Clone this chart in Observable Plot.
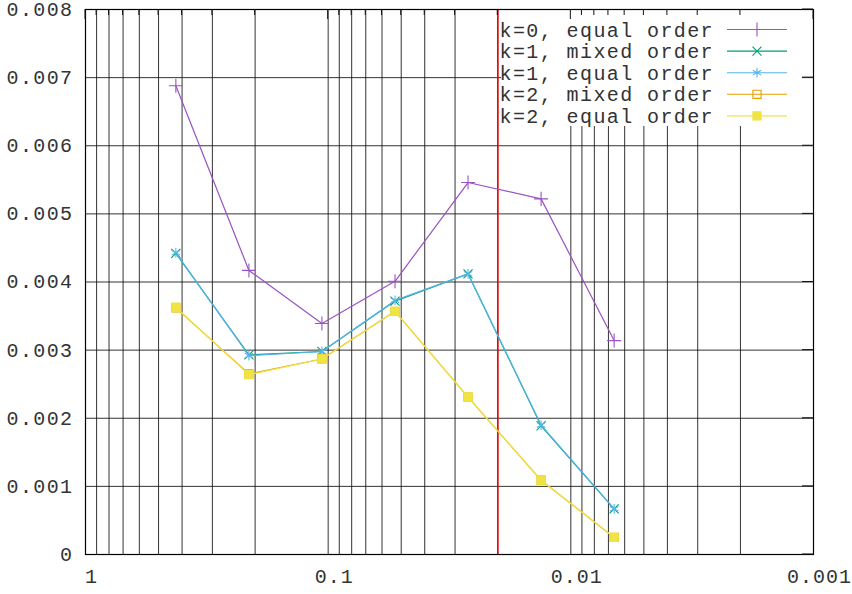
<!DOCTYPE html>
<html><head><meta charset="utf-8">
<script src="https://cdn.jsdelivr.net/npm/d3@7"></script>
<script src="https://cdn.jsdelivr.net/npm/@observablehq/plot@0.6"></script>
<style>body{margin:0;background:#fff} #chart{width:852px;height:594px}</style>
</head><body><div id="chart"></div>
<script>
// ---- data ----
const h = [0.4243, 0.2121, 0.1061, 0.05303, 0.02652, 0.01326, 0.00663];
const k0Equal = [0.00688, 0.00417, 0.00339, 0.00401, 0.00546, 0.00522, 0.00314];
const k1Mixed = [0.00442, 0.00293, 0.00298, 0.00372, 0.00412, 0.00189, 0.00067];
const k1Equal = [0.00443, 0.00292, 0.00298, 0.00373, 0.00412, 0.00190, 0.00067];
const k2Mixed = [0.00362, 0.00265, 0.00287, 0.00357, 0.00231, 0.00109, 0.00025];
const k2Equal = [0.00363, 0.00264, 0.00287, 0.00357, 0.00231, 0.00109, 0.00025];
const seriesNames = ["k=0, equal order", "k=1, mixed order", "k=1, equal order", "k=2, mixed order", "k=2, equal order"];
const seriesValues = [k0Equal, k1Mixed, k1Equal, k2Mixed, k2Equal];
const seriesColors = ["#9a52c4", "#009e73", "#56b4e9", "#e69f00", "#f0e442"];
const seriesSymbols = ["plus", "times", "asterisk", "square", "square"];
const seriesFilled = [false, false, false, false, true];
const xMajorTicks = [1, 0.1, 0.01, 0.001];
const xTickLabels = ["1", "0.1", "0.01", "0.001"];
const xGrid = [1, 0.9, 0.8, 0.7, 0.6, 0.5, 0.4, 0.3, 0.2,
               0.1, 0.09, 0.08, 0.07, 0.06, 0.05, 0.04, 0.03, 0.02,
               0.01, 0.009, 0.008, 0.007, 0.006, 0.005, 0.004, 0.003, 0.002, 0.001];
const yTicks = [0, 0.001, 0.002, 0.003, 0.004, 0.005, 0.006, 0.007, 0.008];
const yTickLabels = ["0", "0.001", "0.002", "0.003", "0.004", "0.005", "0.006", "0.007", "0.008"];
const refLine = [0.02];

const rows = seriesNames.flatMap((name, s) => h.map((x, i) => ({series: name, s, x, y: seriesValues[s][i]})));
const symbolR = {plus: 4.6, times: 4.2, asterisk: 4.6, square: 4.6};

const seriesMarks = seriesNames.flatMap((name, s) => {
  const d = rows.filter(r => r.s === s);
  return [
    Plot.line(d, {x: "x", y: "y", stroke: seriesColors[s], strokeWidth: 1.2}),
    Plot.dot(d, {x: "x", y: "y", symbol: () => seriesSymbols[s], r: symbolR[seriesSymbols[s]],
      stroke: seriesColors[s], strokeWidth: 1.1,
      fill: seriesFilled[s] ? seriesColors[s] : "none"})
  ];
});

const plot = Plot.plot({
  width: 852, height: 594,
  marginLeft: 85, marginRight: 39, marginTop: 9, marginBottom: 40,
  x: {type: "log", domain: [1, 0.001], label: null},
  y: {domain: [0, 0.008], label: null},
  symbol: {type: "identity"},
  style: {fontFamily: "'Liberation Mono', monospace", fontSize: "20px", letterSpacing: "1.4px", background: "#fff", color: "#000", overflow: "visible"},
  marks: [
    Plot.ruleX(xGrid, {stroke: "#111", strokeWidth: 1, strokeOpacity: 0.85}),
    Plot.ruleY(yTicks, {stroke: "#111", strokeWidth: 1, strokeOpacity: 0.85}),
    Plot.ruleX(refLine, {stroke: "#ff0000", strokeWidth: 1.6}),
    ...seriesMarks,
    Plot.axisY(yTicks, {tickSize: 0, tickPadding: 12, label: null, tickFormat: d => yTickLabels[yTicks.indexOf(d)], fill: "#333"}),
    Plot.axisX(xMajorTicks, {tickSize: 0, tickPadding: 14, dx: 6, label: null, tickFormat: d => xTickLabels[xMajorTicks.indexOf(d)], fill: "#333", style: {letterSpacing: "1px"}}),
    Plot.frame({stroke: "#000", strokeWidth: 1.2})
  ]
});
document.getElementById("chart").appendChild(plot);
plot.querySelectorAll('g[aria-label="x-axis tick label"] text').forEach(t => t.style.letterSpacing = "1px");

// ---- legend & mirrored ticks ----
const sx = plot.scale("x"), sy = plot.scale("y");
const pRight = sx.apply(0.001), pTop = sy.apply(0.008);
const svg = d3.select(plot);
const ruleGroups = plot.querySelectorAll('g[aria-label="rule"]');
const legend = d3.create("svg:g").attr("class", "legend");
ruleGroups[1].after(legend.node());
legend.append("rect").attr("x", pRight - 312).attr("y", pTop + 1).attr("width", 301).attr("height", 116).attr("fill", "#fff");
const symMap = {plus: d3.symbolPlus, times: d3.symbolTimes, asterisk: d3.symbolAsterisk, square: d3.symbolSquare};
seriesNames.forEach((name, s) => {
  const yy = pTop + 20.5 + s * 21.6;
  legend.append("text").attr("x", pRight - 99).attr("y", yy).attr("dy", "0.35em").attr("text-anchor", "end")
    .attr("fill", "#333").text(name);
  legend.append("line").attr("x1", pRight - 86).attr("x2", pRight - 26).attr("y1", yy).attr("y2", yy)
    .attr("stroke", seriesColors[s]).attr("stroke-width", 1.1);
  const r = symbolR[seriesSymbols[s]];
  legend.append("path").attr("transform", `translate(${pRight - 56},${yy})`)
    .attr("d", d3.symbol(symMap[seriesSymbols[s]], Math.PI * r * r)())
    .attr("stroke", seriesColors[s]).attr("stroke-width", 1.1)
    .attr("fill", seriesFilled[s] ? seriesColors[s] : "none");
});
const tickG = svg.append("g").attr("stroke", "#111").attr("stroke-width", 1);
xGrid.forEach(v => {
  const len = xMajorTicks.includes(v) ? 10 : 6;
  tickG.append("line").attr("x1", sx.apply(v)).attr("x2", sx.apply(v)).attr("y1", pTop).attr("y2", pTop + len);
});
yTicks.forEach(v => {
  tickG.append("line").attr("x1", pRight - 11).attr("x2", pRight).attr("y1", sy.apply(v)).attr("y2", sy.apply(v));
});
</script></body></html>
